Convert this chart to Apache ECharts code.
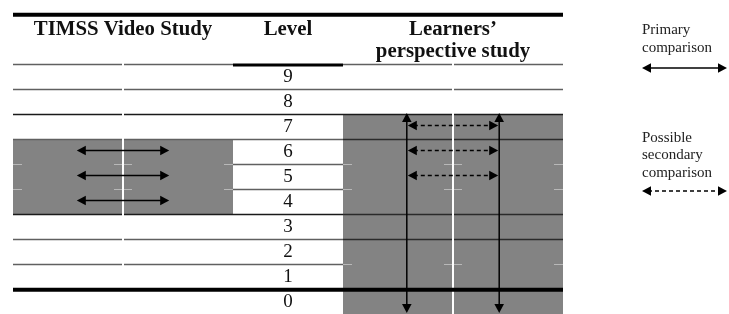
<!DOCTYPE html>
<html><head><meta charset="utf-8">
<script src="https://cdn.jsdelivr.net/npm/echarts@6/dist/echarts.min.js"></script>
<style>html,body{margin:0;padding:0;background:#fff}#c{width:729px;height:314px}</style>
</head><body><div id="c"></div>
<script>
// ---- data ----
const levels = [0, 1, 2, 3, 4, 5, 6, 7, 8, 9];
const headers = ['TIMSS Video Study', 'Level', 'Learners\u2019\nperspective study'];
const headerSpans = [2, 1, 2];            // sub-columns covered by each header
const timssShaded = [4, 6];               // levels shaded in TIMSS column
const learnersShaded = [0, 7];            // levels shaded in learners' column
const timssPrimary = [6, 5, 4];           // primary comparisons (TIMSS)
const learnersSecondary = [7, 6, 5];      // possible secondary comparisons
const learnersPrimarySpan = [0, 7];       // vertical primary comparison span
const legendLabels = ['Primary\ncomparison', 'Possible\nsecondary\ncomparison'];
const faintInShade = [2, 5, 6];           // rules that fade inside shaded areas
const darkRules = [4, 8];                 // rules printed darker

// ---- helpers ----
const SERIF = '"Liberation Serif", "Times New Roman", serif';
const GRAY = '#838383';
function head(tip, dir, color) {
  const L = 9, W = 4.8;
  const bx = tip[0] - dir[0] * L, by = tip[1] - dir[1] * L;
  const nx = -dir[1], ny = dir[0];
  return { type: 'polygon', shape: { points: [tip, [bx + nx * W, by + ny * W], [bx - nx * W, by - ny * W]] }, style: { fill: color } };
}
function dArrow(p1, p2, dashed) {
  const color = '#000';
  const dx = p2[0] - p1[0], dy = p2[1] - p1[1], len = Math.hypot(dx, dy);
  const d = [dx / len, dy / len], ins = 6;
  return [
    { type: 'line', shape: { x1: p1[0] + d[0] * ins, y1: p1[1] + d[1] * ins, x2: p2[0] - d[0] * ins, y2: p2[1] - d[1] * ins },
      style: { stroke: color, lineWidth: 1.5, lineDash: dashed ? [4, 3] : null } },
    head(p1, [-d[0], -d[1]], color), head(p2, d, color)
  ];
}
function inShade(c, b) {
  return (c < 2 && b > timssShaded[0] && b <= timssShaded[1]) ||
         (c >= 3 && b > learnersShaded[0] && b <= learnersShaded[1]);
}
const NCOL = headerSpans.reduce((a, b) => a + b, 0);
const TOP = levels.length + 2;
const boundaries = levels.map(k => k + 1).concat([TOP]);
const ARM = 0.42;
const splits = [1, 4];

const shadeData = [
  [0, 2, timssShaded[0], timssShaded[1] + 1],
  [3, 5, learnersShaded[0], learnersShaded[1] + 1]
];
const vertData = [
  [4 - ARM, learnersPrimarySpan[0], learnersPrimarySpan[1] + 1],
  [4 + ARM, learnersPrimarySpan[0], learnersPrimarySpan[1] + 1]
];

const chart = echarts.init(document.getElementById('c'), null, { renderer: 'canvas' });
chart.setOption({
  animation: false,
  backgroundColor: '#fff',
  grid: { left: 13, top: 14, width: 550, height: 300 },
  xAxis: { type: 'value', min: 0, max: NCOL, show: false },
  yAxis: { type: 'value', min: 0, max: TOP, show: false },
  series: [
    { // shaded regions
      type: 'custom', data: shadeData,
      renderItem(p, api) {
        const x0 = api.value(0), x1 = api.value(1), y0 = api.value(2), y1 = api.value(3);
        const mid = (x0 + x1) / 2;
        const a = api.coord([x0, y1]), m = api.coord([mid, y0]), b = api.coord([x1, y0]);
        const ch = [
          { type: 'rect', shape: { x: a[0], y: a[1], width: m[0] - a[0] - 1, height: m[1] - a[1] }, style: { fill: GRAY } },
          { type: 'rect', shape: { x: m[0] + 1, y: a[1], width: b[0] - m[0] - 1, height: m[1] - a[1] }, style: { fill: GRAY } }
        ];
        faintInShade.forEach(f => {
          if (f > y0 && f < y1) {
            const yy = Math.round(api.coord([0, f])[1]) + 0.5;
            [[a[0], a[0] + 9], [m[0] - 9, m[0] - 1], [m[0] + 1, m[0] + 9], [b[0] - 9, b[0]]].forEach(s => {
              ch.push({ type: 'line', shape: { x1: s[0], y1: yy, x2: s[1], y2: yy }, style: { stroke: '#b8b8b8', lineWidth: 1 } });
            });
          }
        });
        return { type: 'group', children: ch };
      }
    },
    { // table rules
      type: 'custom', data: boundaries.map(b => [b]),
      renderItem(p, api) {
        const b = api.value(0);
        const y = api.coord([0, b])[1];
        const ch = [];
        for (let c = 0; c < NCOL; c++) {
          let x1 = api.coord([c, b])[0], x2 = api.coord([c + 1, b])[0];
          const gapped = b >= 2 && b <= levels.length;
          if (gapped && splits.includes(c)) x1 += 1;
          if (gapped && splits.includes(c + 1)) x2 -= 1;
          let color = darkRules.includes(b) ? '#1a1a1a' : '#606060', w = 1.3, yy = Math.round(y) + 0.5;
          if (b === 1 || b === TOP) { color = '#000'; w = 4; yy = y + 0.7; }
          else if (b === levels.length && c === 2) { color = '#000'; w = 3; yy = y + 1; }
          else if (inShade(c, b)) {
            if (faintInShade.includes(b)) continue;
            color = '#2a2a2a';
          }
          ch.push({ type: 'line', shape: { x1, y1: yy, x2, y2: yy }, style: { stroke: color, lineWidth: w } });
        }
        return { type: 'group', children: ch };
      }
    },
    { // level numbers
      type: 'custom', data: levels.map(k => [k]),
      renderItem(p, api) {
        const k = api.value(0);
        const pt = api.coord([2.5, k + 0.5]);
        return { type: 'text', x: pt[0], y: pt[1] + 1,
          style: { text: String(k), font: '19px ' + SERIF, fill: '#111', align: 'center', verticalAlign: 'middle' } };
      }
    },
    { // headers
      type: 'custom', data: headers.map((h, i) => [i]),
      renderItem(p, api) {
        const i = api.value(0);
        let start = 0; for (let j = 0; j < i; j++) start += headerSpans[j];
        const pt = api.coord([start + headerSpans[i] / 2, TOP]);
        return { type: 'text', x: pt[0], y: pt[1] + 4.5, scaleX: 1.04,
          style: { text: headers[i], font: 'bold 20px ' + SERIF, fill: '#111', align: 'center', verticalAlign: 'top', lineHeight: 22 } };
      }
    },
    { // primary comparisons in TIMSS column
      type: 'custom', data: timssPrimary.map(k => [k]),
      renderItem(p, api) {
        const k = api.value(0);
        const a = api.coord([1 - ARM, k + 0.5]), b = api.coord([1 + ARM, k + 0.5]);
        return { type: 'group', children: dArrow([a[0], a[1] - 1], [b[0], b[1] - 1], false) };
      }
    },
    { // possible secondary comparisons
      type: 'custom', data: learnersSecondary.map(k => [k]),
      renderItem(p, api) {
        const k = api.value(0);
        const a = api.coord([4 - ARM, k + 0.5]), b = api.coord([4 + ARM, k + 0.5]);
        return { type: 'group', children: dArrow([a[0] + 1, a[1] - 1], [b[0] - 1, b[1] - 1], true) };
      }
    },
    { // vertical primary comparisons in learners' column
      type: 'custom', data: vertData,
      renderItem(p, api) {
        const x = api.value(0);
        const a = api.coord([x, api.value(2)]), b = api.coord([x, api.value(1)]);
        return { type: 'group', children: dArrow([a[0], a[1] - 1], [b[0], b[1] - 1], false) };
      }
    }
  ],
  graphic: [
    { type: 'text', x: 642, y: 21, style: { text: legendLabels[0], font: '15px ' + SERIF, fill: '#222', lineHeight: 18, verticalAlign: 'top' } },
    { type: 'group', children: dArrow([642, 68], [727, 68], false) },
    { type: 'text', x: 642, y: 129, style: { text: legendLabels[1], font: '15px ' + SERIF, fill: '#222', lineHeight: 17.5, verticalAlign: 'top' } },
    { type: 'group', children: dArrow([642, 191], [727, 191], true) }
  ]
});
</script>
</body></html>
